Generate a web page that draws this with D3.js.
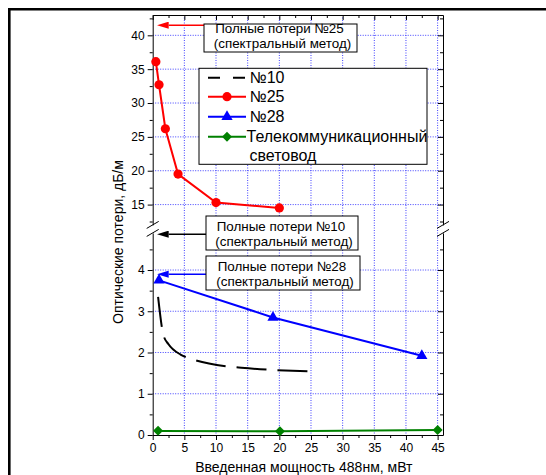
<!DOCTYPE html>
<html>
<head>
<meta charset="utf-8">
<script src="https://cdn.jsdelivr.net/npm/d3@7"></script>
<style>
  body { margin: 0; background: #fff; }
  text { font-family: "Liberation Sans", Arial, sans-serif; }
</style>
</head>
<body>
<script>
// series: [power mW, loss dB/m]
var s10 = [[0.85, 3.35], [1.7, 2.42], [2.5, 2.2], [4.4, 1.95], [6.2, 1.84], [12, 1.66], [14, 1.63], [25, 1.54]];
var s25 = [[0.5, 36.1], [1, 32.7], [2, 26.2], [4, 19.5], [10, 15.3], [20, 14.5]];
var s28 = [[1, 3.75], [19, 2.85], [42.5, 1.92]];
var sTel = [[0.85, 0.1], [20.1, 0.09], [45, 0.12]];

var xTicks = [0, 5, 10, 15, 20, 25, 30, 35, 40, 45];
var xMinor = [2.5, 7.5, 12.5, 17.5, 22.5, 27.5, 32.5, 37.5, 42.5];
var yLowTicks = [0, 1, 2, 3, 4];
var yLowMinor = [0.5, 1.5, 2.5, 3.5, 4.5];
var yHighTicks = [15, 20, 25, 30, 35, 40];
var yHighMinor = [12.5, 17.5, 22.5, 27.5, 32.5, 37.5, 42.5];

var legendNames = ["№10", "№25", "№28", "Телекоммуникационный"];
// annotation arrows: label, level, which y segment
var notes = [
  {label: "Полные потери №25", y: 41.5, seg: "high", color: "red", box: [204, 24, 153, 28]},
  {label: "Полные потери №10", y: 4.87, seg: "low", color: "black", box: [206, 216, 152, 34]},
  {label: "Полные потери №28", y: 3.9, seg: "low", color: "blue", box: [206, 256, 154, 34]}
];

var W = 546, H = 475;
var pl = 152.7, pr = 443, pt = 15, pb = 435;

var svg = d3.select("body").append("svg")
    .attr("width", W)
    .attr("height", H);

var x = d3.scaleLinear().domain([0, 45.85]).range([pl, pr]);
var yLow = d3.scaleLinear().domain([0, 4.9]).range([pb, 232.9]);
var yHigh = d3.scaleLinear().domain([12, 43]).range([224.9, pt]);

// outer frame
svg.append("line").attr("x1", 8).attr("x2", W).attr("y1", 9.3).attr("y2", 9.3)
    .attr("stroke", "#000").attr("stroke-width", 2.6);
svg.append("line").attr("x1", 9.3).attr("x2", 9.3).attr("y1", 8).attr("y2", H)
    .attr("stroke", "#000").attr("stroke-width", 2.6);

// grid
var grid = svg.append("g").attr("stroke", "#0000ff").attr("stroke-width", 1)
    .attr("stroke-dasharray", "1,1.5").attr("opacity", 0.75);
grid.selectAll("line.v").data(xTicks.slice(1)).enter().append("line")
    .attr("x1", d => x(d)).attr("x2", d => x(d)).attr("y1", pt).attr("y2", pb);
grid.selectAll("line.hl").data(yLowTicks.slice(1)).enter().append("line")
    .attr("x1", pl).attr("x2", pr).attr("y1", d => yLow(d)).attr("y2", d => yLow(d));
grid.selectAll("line.hh").data(yHighTicks).enter().append("line")
    .attr("x1", pl).attr("x2", pr).attr("y1", d => yHigh(d)).attr("y2", d => yHigh(d));

function styleAxis(g) {
  g.selectAll("path, line").attr("stroke", "#000").attr("stroke-width", 1);
  g.selectAll("text").attr("font-size", 12).attr("fill", "#000")
      .style("font-family", "'Liberation Sans', Arial, sans-serif");
}
var fmt = d3.format("d");

// bottom axis
svg.append("g").attr("transform", "translate(0," + pb + ")")
    .call(d3.axisBottom(x).tickValues(xTicks).tickSize(5).tickSizeOuter(0).tickPadding(3).tickFormat(fmt))
    .call(styleAxis);
svg.append("g").attr("transform", "translate(0," + pb + ")")
    .call(d3.axisBottom(x).tickValues(xMinor).tickSize(3).tickFormat(""))
    .call(styleAxis).select(".domain").remove();
// top axis, ticks inward
svg.append("g").attr("transform", "translate(0," + pt + ")")
    .call(d3.axisTop(x).tickValues(xTicks).tickSize(-5).tickSizeOuter(0).tickFormat(""))
    .call(styleAxis);
svg.append("g").attr("transform", "translate(0," + pt + ")")
    .call(d3.axisTop(x).tickValues(xMinor).tickSize(-3).tickFormat(""))
    .call(styleAxis).select(".domain").remove();

// left and right, two segments each
[[yLow, yLowTicks, yLowMinor], [yHigh, yHighTicks, yHighMinor]].forEach(function (s) {
  svg.append("g").attr("transform", "translate(" + pl + ",0)")
      .call(d3.axisLeft(s[0]).tickValues(s[1]).tickSize(5).tickSizeOuter(0).tickPadding(3).tickFormat(fmt))
      .call(styleAxis);
  svg.append("g").attr("transform", "translate(" + pl + ",0)")
      .call(d3.axisLeft(s[0]).tickValues(s[2]).tickSize(3).tickFormat(""))
      .call(styleAxis).select(".domain").remove();
  svg.append("g").attr("transform", "translate(" + pr + ",0)")
      .call(d3.axisRight(s[0]).tickValues(s[1]).tickSize(-5).tickSizeOuter(0).tickFormat(""))
      .call(styleAxis);
  svg.append("g").attr("transform", "translate(" + pr + ",0)")
      .call(d3.axisRight(s[0]).tickValues(s[2]).tickSize(-3).tickFormat(""))
      .call(styleAxis).select(".domain").remove();
});

// break marks
[pl, pr].forEach(function (ax) {
  [yHigh(12), yLow(4.9)].forEach(function (yy) {
    svg.append("line").attr("x1", ax - 6).attr("x2", ax + 6)
        .attr("y1", yy + 3.5).attr("y2", yy - 3.5)
        .attr("stroke", "#000").attr("stroke-width", 1);
  });
});

// markers
var tri = d3.symbol(d3.symbolTriangle, 55);
var dia = d3.symbol(d3.symbolSquare, 50);

// series
var plot = svg.append("g");

plot.append("path").datum(s10)
    .attr("d", d3.line().x(d => x(d[0])).y(d => yLow(d[1])).curve(d3.curveMonotoneX))
    .attr("fill", "none").attr("stroke", "#000").attr("stroke-width", 2)
    .attr("stroke-dasharray", "30,11");

plot.append("path").datum(s25)
    .attr("d", d3.line().x(d => x(d[0])).y(d => yHigh(d[1])))
    .attr("fill", "none").attr("stroke", "red").attr("stroke-width", 2);
plot.selectAll("circle.s25").data(s25).enter().append("circle")
    .attr("cx", d => x(d[0])).attr("cy", d => yHigh(d[1])).attr("r", 4.6).attr("fill", "red");

plot.append("path").datum(s28)
    .attr("d", d3.line().x(d => x(d[0])).y(d => yLow(d[1])))
    .attr("fill", "none").attr("stroke", "blue").attr("stroke-width", 2);
plot.selectAll("path.s28").data(s28).enter().append("path")
    .attr("transform", d => "translate(" + x(d[0]) + "," + yLow(d[1]) + ")")
    .attr("d", tri).attr("fill", "blue");

plot.append("path").datum(sTel)
    .attr("d", d3.line().x(d => x(d[0])).y(d => yLow(d[1])))
    .attr("fill", "none").attr("stroke", "#008000").attr("stroke-width", 2);
plot.selectAll("path.tel").data(sTel).enter().append("path")
    .attr("transform", d => "translate(" + x(d[0]) + "," + yLow(d[1]) + ") rotate(45)")
    .attr("d", dia).attr("fill", "#008000");

// annotations
svg.append("defs").selectAll("marker").data(notes).enter().append("marker")
    .attr("id", (d, i) => "ah" + i)
    .attr("viewBox", "0 0 10 6").attr("refX", 0).attr("refY", 3)
    .attr("markerUnits", "userSpaceOnUse")
    .attr("markerWidth", 14).attr("markerHeight", 7).attr("orient", "auto")
    .append("path").attr("d", "M0,0 L10,3 L0,6 Z").attr("fill", d => d.color);

notes.forEach(function (n, i) {
  var yy = n.seg == "high" ? yHigh(n.y) : yLow(n.y);
  var b = n.box;
  svg.append("line").attr("x1", b[0]).attr("x2", pl + 16).attr("y1", yy).attr("y2", yy)
      .attr("stroke", n.color).attr("stroke-width", 1.5)
      .attr("marker-end", "url(#ah" + i + ")");
  svg.append("rect").attr("x", b[0]).attr("y", b[1]).attr("width", b[2]).attr("height", b[3])
      .attr("fill", "#fff").attr("stroke", "#000").attr("stroke-width", 1);
  var cx = b[0] + b[2] / 2;
  svg.append("text").attr("x", cx - 1).attr("y", b[1] + (b[3] > 30 ? 14.7 : 9.3))
      .attr("text-anchor", "middle").attr("font-size", 13.4).text(n.label);
  svg.append("text").attr("x", cx + 2).attr("y", b[1] + (b[3] > 30 ? 29.5 : 23.8))
      .attr("text-anchor", "middle").attr("font-size", 13.4).text("(спектральный метод)");
});

// legend
var lg = svg.append("g");
lg.append("rect").attr("x", 199).attr("y", 68.3).attr("width", 228).attr("height", 96)
    .attr("fill", "#fff").attr("stroke", "#000").attr("stroke-width", 1);
var rowsY = [77.7, 96.7, 116.7, 136.7];
var lgColors = ["#000", "red", "blue", "#008000"];
legendNames.forEach(function (name, i) {
  var yy = rowsY[i];
  var ln = lg.append("line").attr("x1", 208).attr("x2", 246).attr("y1", yy).attr("y2", yy)
      .attr("stroke", lgColors[i]).attr("stroke-width", 2);
  if (i == 0) ln.attr("stroke-dasharray", "12,13");
  if (i == 1) lg.append("circle").attr("cx", 227).attr("cy", yy).attr("r", 4.6).attr("fill", "red");
  if (i == 2) lg.append("path").attr("transform", "translate(227," + yy + ")")
      .attr("d", tri).attr("fill", "blue");
  if (i == 3) lg.append("path").attr("transform", "translate(227," + yy + ") rotate(45)")
      .attr("d", dia).attr("fill", "#008000");
  lg.append("text").attr("x", i == 3 ? 246.5 : 249.5).attr("y", yy + 5.5)
      .attr("font-size", 16).text(name);
});
lg.append("text").attr("x", 249.5).attr("y", 161).attr("font-size", 16).text("световод");

// axis titles
svg.append("text").attr("x", (pl + pr) / 2 + 6).attr("y", 472)
    .attr("text-anchor", "middle").attr("font-size", 14)
    .text("Введенная мощность 488нм, мВт");
svg.append("text").attr("transform", "translate(123,242) rotate(-90)")
    .attr("text-anchor", "middle").attr("font-size", 14)
    .text("Оптические потери, дБ/м");
</script>
</body>
</html>
